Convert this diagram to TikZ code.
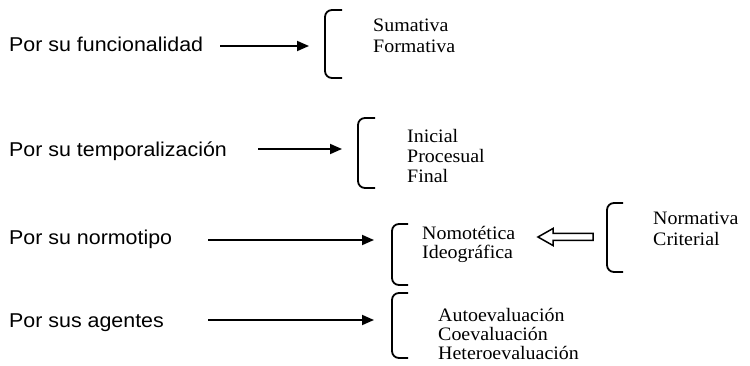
\documentclass[tikz,border=0pt]{standalone}
\usepackage{fontspec}
\setmainfont{Liberation Serif}[FakeStretch=1.05]
\newfontfamily\lsans[FakeStretch=1.07]{Liberation Sans}
\usetikzlibrary{arrows.meta,calc}
\begin{document}
\begin{tikzpicture}[x=1pt,y=-1pt,
  lab/.style={anchor=base west, inner sep=0pt, font=\lsans\fontsize{20}{24}\selectfont},
  item/.style={anchor=base west, inner sep=0pt, font=\fontsize{19}{22}\selectfont},
  conn/.style={line width=1.8pt, -{Triangle[length=12pt,width=10pt]}},
  brk/.style={line width=1.8pt, rounded corners=7pt},
  hollow/.style={line width=1.5pt, line join=miter}]
\useasboundingbox[fill=white] (0,0) rectangle (750,366);

% left labels
\node[lab] (r1) at (9,52) {Por su funcionalidad};
\node[lab] (r2) at (9,157) {Por su temporalización};
\node[lab] (r3) at (9,245) {Por su normotipo};
\node[lab] (r4) at (9,327) {Por sus agentes};

% arrows
\coordinate (a1s) at (220,46);  \coordinate (a1e) at (309,46);
\coordinate (a2s) at (258,149); \coordinate (a2e) at (342,149);
\coordinate (a3s) at (208,240); \coordinate (a3e) at (374,240);
\coordinate (a4s) at (208,320); \coordinate (a4e) at (374,320);
\draw[conn] (a1s) -- (a1e);
\draw[conn] (a2s) -- (a2e);
\draw[conn] (a3s) -- (a3e);
\draw[conn] (a4s) -- (a4e);

% brackets
\coordinate (b1t) at (342,10);  \coordinate (b1b) at (342,78);
\coordinate (b2t) at (375,118); \coordinate (b2b) at (375,188);
\coordinate (b3t) at (408,224); \coordinate (b3b) at (408,285);
\coordinate (b4t) at (623,203); \coordinate (b4b) at (623,272);
\coordinate (b5t) at (408,293); \coordinate (b5b) at (408,358);
\draw[brk] (b1t) -- ++(-17,0) |- (b1b);
\draw[brk] (b2t) -- ++(-17,0) |- (b2b);
\draw[brk] (b3t) -- ++(-16,0) |- (b3b);
\draw[brk] (b4t) -- ++(-16,0) |- (b4b);
\draw[brk] (b5t) -- ++(-16,0) |- (b5b);

% items
\node[item] (i11) at (373,32) {Sumativa};
\node[item] (i12) at (373,53) {Formativa};
\node[item] (i21) at (407,143) {Inicial};
\node[item] (i22) at (407,163) {Procesual};
\node[item] (i23) at (407,183) {Final};
\node[item] (i31) at (422,240) {Nomotética};
\node[item] (i32) at (422,259) {Ideográfica};
\node[item] (i41) at (653,225) {Normativa};
\node[item] (i42) at (653,246) {Criterial};
\node[item] (i51) at (438,321) {Autoevaluación};
\node[item] (i52) at (438,340) {Coevaluación};
\node[item] (i53) at (438,359) {Heteroevaluación};

% hollow arrow
\coordinate (hT) at (593,237);
\coordinate (hH) at (538,237);
\draw[hollow] (hH) -- ($(hH)+(15,-8.5)$) -- ($(hH)+(15,-3.5)$) -- ($(hT)+(0,-3.5)$)
  -- ($(hT)+(0,3.5)$) -- ($(hH)+(15,3.5)$) -- ($(hH)+(15,8.5)$) -- cycle;
\end{tikzpicture}
\end{document}
